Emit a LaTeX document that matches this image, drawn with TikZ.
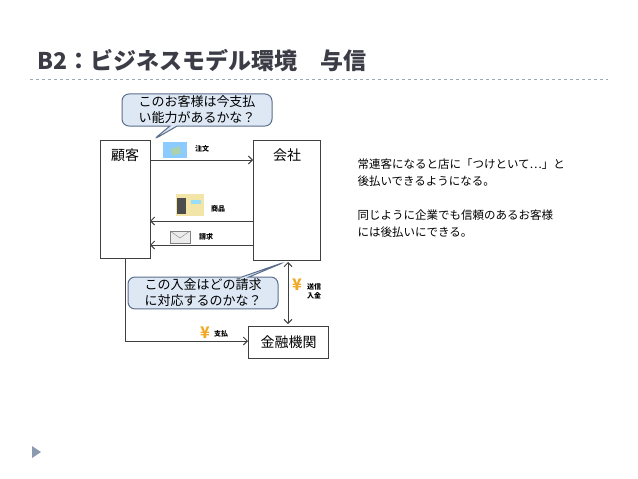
\documentclass[tikz,border=0pt]{standalone}
\usepackage{fontspec}
\setmainfont{Noto Sans CJK JP}
\usetikzlibrary{arrows.meta,shapes.callouts}
\definecolor{titlec}{RGB}{60,60,70}
\definecolor{callb}{RGB}{90,110,140}
\definecolor{callf}{RGB}{222,232,245}
\definecolor{yen}{RGB}{240,170,40}
\tikzset{
 ent/.style={draw=black!75,line width=1pt,anchor=north west},
 lbl/.style={font=\fontsize{14}{15}\selectfont,anchor=north},
 small/.style={font=\fontsize{7}{8}\selectfont\bfseries},
 arr/.style={draw=black!75,line width=1pt,-{Straight Barb[length=4pt,width=8pt]}},
 call/.style={rectangle callout,rounded corners=7pt,draw=callb,fill=callf,line width=1pt,align=left,font=\fontsize{13}{16}\selectfont,inner sep=2pt,minimum width=150pt},
}
\begin{document}
\begin{tikzpicture}[x=1pt,y=-1pt]
\useasboundingbox (0,0) rectangle (638,479);
\node[anchor=west,text=titlec,font=\fontsize{23}{25}\selectfont\bfseries] (title) at (34,61) {B2：ビジネスモデル環境　与信};
\draw[dashed,draw=callb!60,line width=0.6pt] (30,79) -- (608,79);
\draw[ent] (100,140) rectangle (150,258);
\node[lbl] (kokyaku) at (125,145) {顧客};
\draw[ent] (253,140) rectangle (320,260);
\node[lbl] (kaisha) at (287,145) {会社};
\node[ent,minimum width=80pt,minimum height=32pt,font=\fontsize{14}{15}\selectfont] (bank) at (248,326) {金融機関};
\coordinate (k1) at (150,160); \coordinate (s1) at (253,160);
\draw[arr] (k1) -- (s1);
\coordinate (k2) at (150,221); \coordinate (s2) at (253,221);
\draw[arr] (s2) -- (k2);
\coordinate (k3) at (150,245); \coordinate (s3) at (253,245);
\draw[arr] (s3) -- (k3);
\coordinate (kb) at (125,258); \coordinate (kc) at (125,341);
\draw[arr] (kb) -- (kc) -- (bank.west |- kc);
\coordinate (sb) at (288,262);
\draw[draw=black!75,line width=1pt,{Straight Barb[length=4pt,width=8pt]}-{Straight Barb[length=4pt,width=8pt]}] (sb) -- (288,324);
% icons and labels
\node[fill=blue!45!cyan!45,minimum width=24pt,minimum height=16pt,inner sep=0] (ic1) at (175,150) {};
\node[fill=green!30!gray!50,minimum width=9pt,minimum height=7pt,inner sep=0,rotate=15] at (176,151) {};
\node[small] (l1) at (202,149) {注文};
\node[fill=yellow!50!brown!40,minimum width=28pt,minimum height=22pt,inner sep=0] (ic2) at (190,205) {};
\node[fill=black!70,minimum width=9pt,minimum height=16pt,inner sep=0] at (181,206) {};
\node[fill=cyan!40,minimum width=10pt,minimum height=4pt,inner sep=0] at (196,202) {};
\node[small] (l2) at (218,209) {商品};
\node[draw=gray,fill=gray!15,minimum width=20pt,minimum height=12pt,inner sep=0] (ic3) at (180,237) {};
\draw[gray] (170,231) -- (180,238) -- (190,231);
\node[small] (l3) at (206,237) {請求};
\node[text=yen,font=\fontsize{16}{16}\selectfont\bfseries,inner sep=0] (y1) at (297,285) {¥};
\node[small,align=center,font=\fontsize{7}{9}\selectfont\bfseries] (l4) at (314,291) {送信\\入金};
\node[text=yen,font=\fontsize{16}{16}\selectfont\bfseries,inner sep=0] (y2) at (205,333) {¥};
\node[small] (l5) at (221,334) {支払};
\node[call,callout absolute pointer={(153,140)}] (c1) at (197,110) {このお客様は今支払\\い能力があるかな？};
\node[call,callout absolute pointer={(285,262)}] (c2) at (203,293) {この入金はどの請求\\に対応するのかな？};
\node[anchor=north west,align=left,font=\fontsize{11.5}{17}\selectfont] (txt) at (354,155) {常連客になると店に「つけといて…」と\\後払いできるようになる。\\[17pt]同じように企業でも信頼のあるお客様\\には後払いにできる。};
\fill[callb!70] (32,446) -- (41,452) -- (32,458) -- cycle;
\end{tikzpicture}
\end{document}
